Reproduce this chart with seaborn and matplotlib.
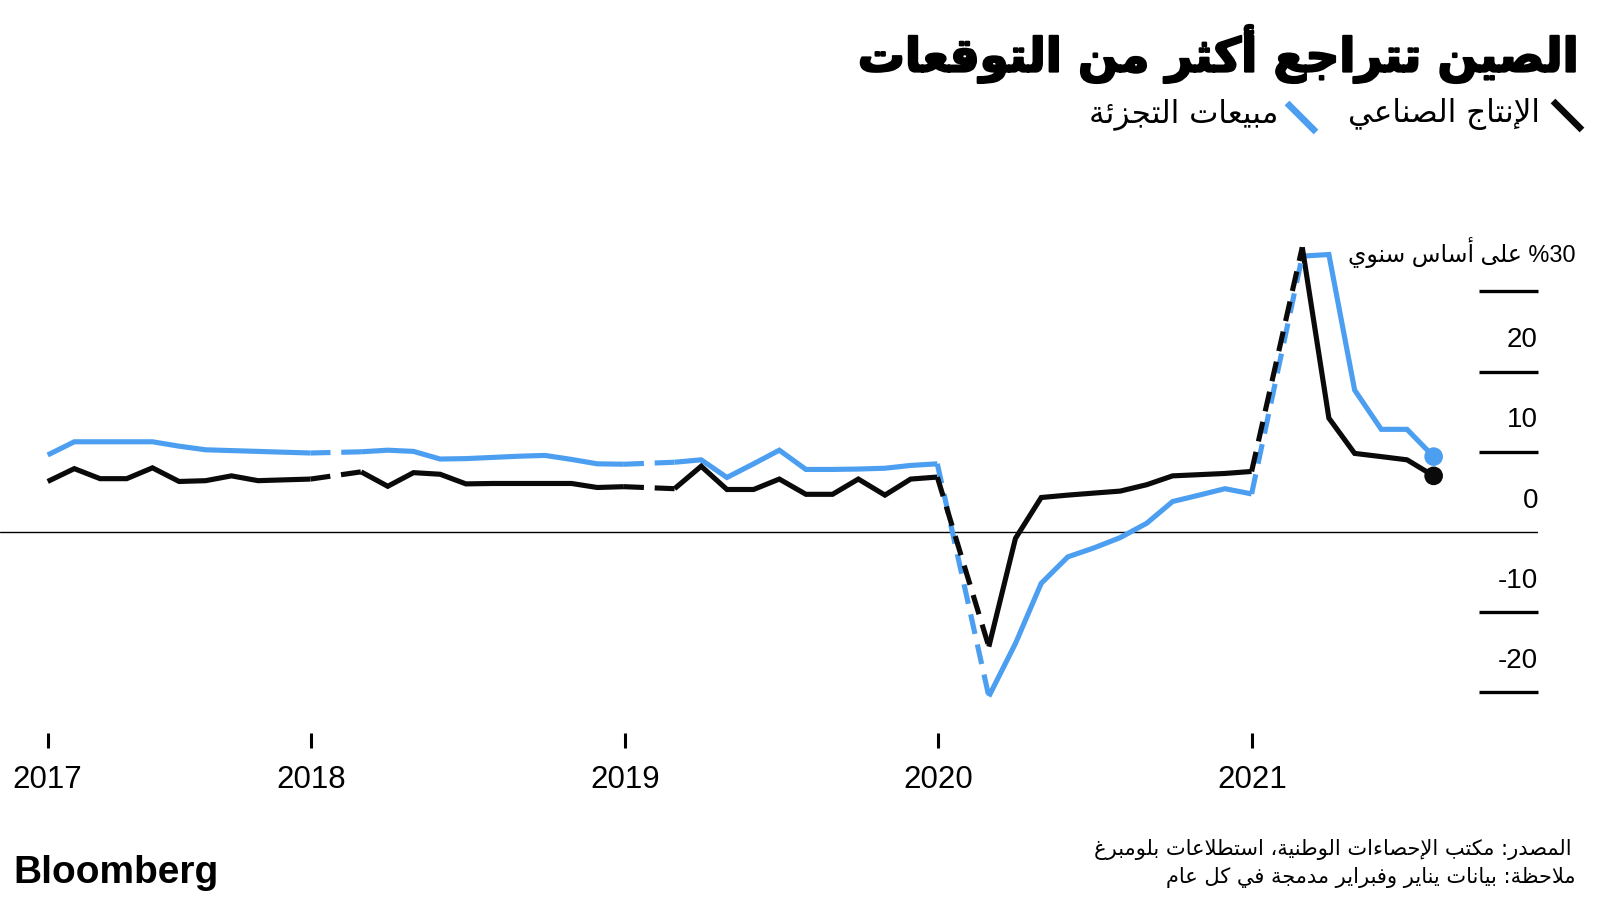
import re
import numpy as np
import pandas as pd
import matplotlib
matplotlib.use("Agg")
import matplotlib.pyplot as plt
import matplotlib.dates as mdates
import matplotlib.patheffects as pe
from matplotlib.lines import Line2D
import seaborn as sns

# ---------------- data ----------------
years = [2017, 2018, 2019, 2020, 2021]
months_full = [2, 3, 4, 5, 6, 7, 8, 9, 10, 11, 12]   # Jan is combined with Feb
months_2021 = [2, 3, 4, 5, 6, 7]

ip_2017 = [6.3, 7.9, 6.65, 6.65, 8.0, 6.3, 6.4, 7.0, 6.4, 6.5, 6.6]
ip_2018 = [7.5, 5.7, 7.4, 7.2, 6.0, 6.05, 6.05, 6.05, 6.05, 5.55, 5.65]
ip_2019 = [5.4, 8.2, 5.3, 5.3, 6.6, 4.7, 4.7, 6.6, 4.6, 6.6, 6.85]
ip_2020 = [-14.3, -0.8, 4.3, 4.6, 4.85, 5.1, 5.9, 7.0, 7.15, 7.3, 7.55]
ip_2021 = [35.5, 14.2, 9.8, 9.4, 9.0, 7.0]

rs_2017 = [9.6, 11.25, 11.25, 11.25, 11.25, 10.7, 10.25, 10.15, 10.05, 9.95, 9.85]
rs_2018 = [10.0, 10.2, 10.05, 9.1, 9.15, 9.3, 9.45, 9.55, 9.05, 8.5, 8.45]
rs_2019 = [8.7, 9.0, 6.8, 8.5, 10.2, 7.8, 7.8, 7.85, 7.95, 8.3, 8.5]
rs_2020 = [-20.5, -13.9, -6.4, -3.1, -2.0, -0.7, 1.1, 3.8, 4.6, 5.4, 4.75]
rs_2021 = [34.4, 34.6, 17.7, 12.8, 12.8, 9.4]

IP_NAME = "الإنتاج الصناعي"
RS_NAME = "مبيعات التجزئة"
TITLE = "الصين تتراجع أكثر من التوقعات"
Y_UNIT = "30% على أساس سنوي"
SOURCE = "المصدر: مكتب الإحصاءات الوطنية، استطلاعات بلومبرغ"
NOTE = "ملاحظة: بيانات يناير وفبراير مدمجة في كل عام"

ytick_lines = [-20, -10, 10, 20, 30]
ylabel_vals = [-20, -10, 0, 10, 20]
ylabel_txt = ["-20", "-10", "0", "10", "20"]
xtick_dates = ["2017-02-28", "2018-01-01", "2019-01-01", "2020-01-01", "2021-01-01"]
xtick_labels = ["2017", "2018", "2019", "2020", "2021"]

IP_COLOR = "#0a0a0a"
RS_COLOR = "#4c9ff0"

# ---------------- minimal Arabic shaping + visual ordering ----------------
_AR = {}
for code, base, n in [
        (0x0621, 0xFE80, 1), (0x0622, 0xFE81, 2), (0x0623, 0xFE83, 2), (0x0624, 0xFE85, 2),
        (0x0625, 0xFE87, 2), (0x0626, 0xFE89, 4), (0x0627, 0xFE8D, 2), (0x0628, 0xFE8F, 4),
        (0x0629, 0xFE93, 2), (0x062A, 0xFE95, 4), (0x062B, 0xFE99, 4), (0x062C, 0xFE9D, 4),
        (0x062D, 0xFEA1, 4), (0x062E, 0xFEA5, 4), (0x062F, 0xFEA9, 2), (0x0630, 0xFEAB, 2),
        (0x0631, 0xFEAD, 2), (0x0632, 0xFEAF, 2), (0x0633, 0xFEB1, 4), (0x0634, 0xFEB5, 4),
        (0x0635, 0xFEB9, 4), (0x0636, 0xFEBD, 4), (0x0637, 0xFEC1, 4), (0x0638, 0xFEC5, 4),
        (0x0639, 0xFEC9, 4), (0x063A, 0xFECD, 4), (0x0641, 0xFED1, 4), (0x0642, 0xFED5, 4),
        (0x0643, 0xFED9, 4), (0x0644, 0xFEDD, 4), (0x0645, 0xFEE1, 4), (0x0646, 0xFEE5, 4),
        (0x0647, 0xFEE9, 4), (0x0648, 0xFEED, 2), (0x0649, 0xFEEF, 2), (0x064A, 0xFEF1, 4)]:
    _AR[chr(code)] = (base, n)
_LAMALEF = {"\u0622": 0xFEF5, "\u0623": 0xFEF7, "\u0625": 0xFEF9, "\u0627": 0xFEFB}


def ar(s):
    out = []
    i, n = 0, len(s)
    while i < n:
        c = s[i]
        if c not in _AR:
            out.append(c)
            i += 1
            continue
        prev = s[i - 1] if i > 0 else ""
        jp = prev in _AR and _AR[prev][1] == 4
        if c == "\u0644" and i + 1 < n and s[i + 1] in _LAMALEF:
            out.append(chr(_LAMALEF[s[i + 1]] + (1 if jp else 0)))
            i += 2
            continue
        base, k = _AR[c]
        nxt = s[i + 1] if i + 1 < n else ""
        jn = k == 4 and nxt in _AR and _AR[nxt][1] >= 2
        if k == 1:
            g = base
        elif k == 2:
            g = base + (1 if jp else 0)
        else:
            g = base + (3 if (jp and jn) else 1 if jp else 2 if jn else 0)
        out.append(chr(g))
        i += 1
    vis = "".join(out)[::-1]
    return re.sub(r"[0-9]+", lambda m: m.group(0)[::-1], vis)


# ---------------- build tables ----------------
ip_by_year = [ip_2017, ip_2018, ip_2019, ip_2020, ip_2021]
rs_by_year = [rs_2017, rs_2018, rs_2019, rs_2020, rs_2021]
rows = []
for y, ipv, rsv in zip(years, ip_by_year, rs_by_year):
    months = months_2021 if y == 2021 else months_full
    for m, a, b in zip(months, ipv, rsv):
        d = pd.Timestamp(year=y, month=m, day=1) + pd.offsets.MonthEnd(0)
        rows.append((d, a, IP_NAME, y))
        rows.append((d, b, RS_NAME, y))
solid = pd.DataFrame(rows, columns=["date", "value", "series", "seg"])

# dashed connectors across the combined Jan-Feb gap (last point of a year -> first of next)
dash_rows = []
for name in [IP_NAME, RS_NAME]:
    sub = solid[solid.series == name]
    for y in years[:-1]:
        a = sub[sub.seg == y].sort_values("date").iloc[-1]
        b = sub[sub.seg == y + 1].sort_values("date").iloc[0]
        dash_rows.append((a.date, a.value, name, y))
        dash_rows.append((b.date, b.value, name, y))
dash = pd.DataFrame(dash_rows, columns=["date", "value", "series", "seg"])
last = solid.sort_values("date").groupby("series").tail(1)

# ---------------- figure ----------------
sns.set_style("white")
plt.rcParams["font.family"] = ["Liberation Sans", "DejaVu Sans"]
W, H = 1600, 900
fig = plt.figure(figsize=(16, 9), dpi=100)
fig.patch.set_facecolor("white")

AX_L, AX_R, AX_T, AX_B = 0, 1538, 230, 733
ax = fig.add_axes([AX_L / W, 1 - AX_B / H, (AX_R - AX_L) / W, (AX_B - AX_T) / H])
ZERO_Y, PX_UNIT = 532, 8.02
ax.set_ylim((ZERO_Y - AX_B) / PX_UNIT, (ZERO_Y - AX_T) / PX_UNIT)

palette = {IP_NAME: IP_COLOR, RS_NAME: RS_COLOR}
order = [RS_NAME, IP_NAME]
sns.lineplot(data=solid, x="date", y="value", hue="series", units="seg", estimator=None,
             palette=palette, hue_order=order, linewidth=3.7, legend=False, ax=ax,
             solid_capstyle="butt", solid_joinstyle="miter", zorder=3)
sns.lineplot(data=dash, x="date", y="value", hue="series", units="seg", estimator=None,
             palette=palette, hue_order=order, linewidth=3.7, legend=False, ax=ax,
             linestyle=(0, (3.9, 2.1)), dash_capstyle="butt", zorder=3)
sns.scatterplot(data=last, x="date", y="value", hue="series", palette=palette,
                hue_order=order, s=180, linewidth=0, legend=False, ax=ax, zorder=4)

ax.axhline(0, color="#000000", lw=1.0, zorder=2)

# x scale: Feb-2017 month end sits at 47.7 px, 0.8587 px per day
ppd = 0.8587
x_anchor = mdates.date2num(pd.Timestamp("2017-02-28"))
x_left = x_anchor - 47.7 / ppd
ax.set_xlim(x_left, x_left + (AX_R - AX_L) / ppd)
ax.set_xticks([mdates.date2num(pd.Timestamp(d)) for d in xtick_dates])
ax.set_xticklabels(xtick_labels)
ax.tick_params(axis="x", bottom=True, top=False, direction="out", length=10.8, width=2.2,
               pad=12.5, labelsize=22.5, colors="#000000")

ax.set_yticks(ytick_lines)
ax.yaxis.tick_right()
ax.tick_params(axis="y", direction="in", length=42.5, width=2.4, colors="#000000",
               labelright=False, labelleft=False, right=True, left=False)
for s in ax.spines.values():
    s.set_visible(False)
ax.set_xlabel("")
ax.set_ylabel("")
ax.grid(False)

for v, t in zip(ylabel_vals, ylabel_txt):
    ax.annotate(t, xy=(1, v), xycoords=("axes fraction", "data"), xytext=(0, 17.5),
                textcoords="offset points", ha="right", va="baseline", fontsize=20,
                color="#000000")

renderer = fig.canvas.get_renderer()


def fit_text(x_px, y_px, s, width_px, ha="right", va="center", **kw):
    t = fig.text(x_px / W, 1 - y_px / H, s, ha=ha, va=va, **kw)
    bb = t.get_window_extent(renderer=renderer)
    t.set_fontsize(t.get_fontsize() * width_px / bb.width)
    return t


AR_FONT = ["DejaVu Sans"]
ttl = fit_text(1578, 54, ar(TITLE), 720, family=AR_FONT, fontweight="bold", fontsize=30,
               color="#000000")
ttl.set_path_effects([pe.withStroke(linewidth=1.6, foreground="#000000")])
fit_text(1540, 114, ar(IP_NAME), 192, family=AR_FONT, fontsize=18, color="#000000")
fit_text(1278, 114, ar(RS_NAME), 188, family=AR_FONT, fontsize=18, color="#000000")
fit_text(1575, 252, ar(Y_UNIT), 228, family=["Liberation Sans", "DejaVu Sans"],
         fontsize=17, color="#000000")
fit_text(1572, 849, ar(SOURCE), 483, family=AR_FONT, fontsize=14, color="#000000")
fit_text(1576, 877, ar(NOTE), 415, family=AR_FONT, fontsize=14, color="#000000")

for (x1, y1, x2, y2), c in [((1553, 101, 1582, 130), IP_COLOR),
                            ((1287, 103, 1316, 132), RS_COLOR)]:
    fig.add_artist(Line2D([x1 / W, x2 / W], [1 - y1 / H, 1 - y2 / H],
                          transform=fig.transFigure, color=c, lw=4.8,
                          solid_capstyle="butt"))

t = fig.text(13 / W, 1 - 883 / H, "Bloomberg", ha="left", va="baseline",
             fontweight="bold", fontsize=28, family=["Liberation Sans"], color="#000000")
bb = t.get_window_extent(renderer=renderer)
t.set_fontsize(28 * 205 / bb.width)

fig.savefig("out.png", dpi=100, facecolor="white")
